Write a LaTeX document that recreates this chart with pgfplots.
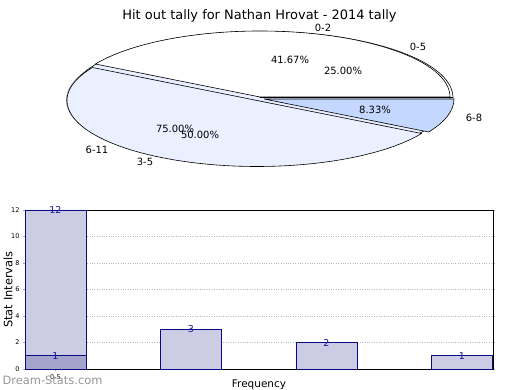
\documentclass[border=0pt]{standalone}
\usepackage{pgfplots}
\pgfplotsset{compat=1.18}
\usepackage{fontspec}
\setmainfont{DejaVu Sans}
\definecolor{barfill}{RGB}{204,204,228}
\definecolor{baroverlap}{RGB}{164,164,204}
\definecolor{baredge}{RGB}{10,10,130}
\definecolor{lbltxt}{RGB}{20,20,150}
\definecolor{pielight}{RGB}{234,240,255}
\definecolor{pieblue}{RGB}{196,216,255}
\definecolor{wmark}{RGB}{150,150,150}
% pie shares (percent)
\def\pAa{41.67}\def\pAb{50.00}\def\pAc{8.33}
\def\pBa{25.00}\def\pBb{75.00}
\newcommand{\pieslice}[5]{%
  \filldraw[fill=#5, draw=black, line width=0.6bp, xshift=#1bp, yshift=#2bp]
    (axis cs:0,0) -- ++(#3:190bp and 66bp)
    arc[start angle=#3, end angle=#4, x radius=190bp, y radius=66bp] -- cycle;}
\begin{document}
\begin{tikzpicture}
\path[use as bounding box] (0,0) rectangle (520bp,390bp);
\node[font=\fontsize{13}{15}\selectfont] at (259.5bp,374.5bp) {Hit out tally for Nathan Hrovat - 2014 tally};
% ---------- pie ----------
\begin{axis}[at={(260bp,292.5bp)}, anchor=center, width=380bp, height=132bp,
  scale only axis, xmin=-1, xmax=1, ymin=-1, ymax=1, axis lines=none, clip=false]
\pgfmathsetmacro\aA{\pAa*3.6}
\pgfmathsetmacro\aB{(\pAa+\pAb)*3.6}
\pgfmathsetmacro\bA{\pBa*3.6}
% shadow
\fill[gray!70, xshift=-4bp, yshift=-2.5bp] (axis cs:0,0) ellipse [x radius=190bp, y radius=66bp];
% second series (0-5, 6-11)
\pieslice{0}{0}{\bA}{360}{pielight}
\pieslice{3}{0}{0}{\bA}{white}
% first series (0-2, 3-5, 6-8)
\pieslice{-3}{-3}{\aA}{\aB}{pielight}
\pieslice{0}{0.5}{0}{\aA}{white}
\pieslice{4}{-1.5}{\aB}{360}{pieblue}
\end{axis}
\begin{scope}[font=\fontsize{10}{12}\selectfont]
\node at (323bp,362bp) {0-2};
\node at (418bp,343bp) {0-5};
\node at (290bp,330bp) {41.67\%};
\node at (343bp,319bp) {25.00\%};
\node at (375bp,280bp) {8.33\%};
\node at (474bp,272bp) {6-8};
\node at (175bp,261bp) {75.00\%};
\node at (200bp,255bp) {50.00\%};
\node at (97bp,240bp) {6-11};
\node at (145bp,228bp) {3-5};
\end{scope}
% ---------- bars ----------
\begin{axis}[at={(25bp,21bp)}, anchor=south west, width=468bp, height=159bp,
  scale only axis, xmin=-0.225, xmax=3.229, ymin=0, ymax=12,
  ytick={0,2,4,6,8,10,12}, xtick={0}, xticklabels={0-5},
  /pgf/number format/assume math mode=true,
  tick label style={font=\fontsize{6.5}{7}\selectfont},
  ymajorgrids, xmajorgrids,
  grid style={gray!55, dotted, line width=0.9bp},
  tick style={gray!70, line width=0.6bp}, major tick length=2bp, tick align=outside,
  ytick pos=both, xtick pos=bottom,
  axis line style={line width=0.8bp},
  ylabel={Stat Intervals}, xlabel={Frequency},
  ylabel style={font=\fontsize{11.5}{13}\selectfont, at={(axis description cs:-0.0363,0.5)}, anchor=center},
  xlabel style={font=\fontsize{10.5}{12}\selectfont, at={(axis description cs:0.5,-0.1006)}, anchor=center},
  clip=false,
  every node near coord/.append style={anchor=center, font=\fontsize{9.5}{10}\selectfont, text=lbltxt}]
\addplot[ybar, bar width=0.45, bar shift=0pt, fill=barfill, draw=baredge, line width=0.6bp, nodes near coords]
  coordinates {(0,12) (1,3) (2,2) (3,1)};
\addplot[ybar, bar width=0.45, bar shift=0pt, fill=baroverlap, draw=baredge, line width=0.6bp, nodes near coords]
  coordinates {(0,1)};
\end{axis}
\node[anchor=west, text=wmark, font=\fontsize{11.5}{13}\selectfont] at (-1bp,10bp) {Dream-Stats.com};
\end{tikzpicture}
\end{document}
